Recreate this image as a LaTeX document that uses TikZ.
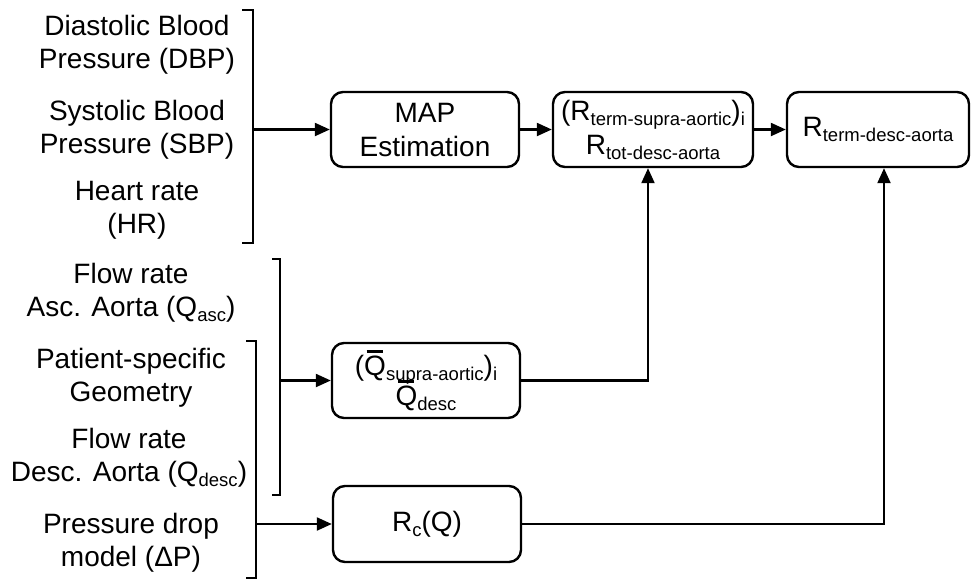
\documentclass[tikz,border=0pt]{standalone}
\usepackage{fontspec}
\setmainfont{Liberation Sans}
\usetikzlibrary{arrows.meta}
\newcommand{\sbx}[1]{\raisebox{-5pt}{\fontsize{18.5}{18.5}\selectfont #1}}
\newcommand{\qbr}{\makebox[0pt][l]{\hspace{2.5pt}\rule[23pt]{16pt}{2.4pt}}Q}
\tikzset{
  box/.style={draw, line width=2.4pt, rounded corners=12pt, minimum width=188pt,
    minimum height=75pt, align=center, inner sep=0pt,
    font=\fontsize{28}{34}\selectfont},
  lbl/.style={align=center, inner sep=0pt, font=\fontsize{28}{33}\selectfont},
  brk/.style={line width=2.2pt},
  arr/.style={line width=2.2pt, -{Triangle[length=15pt,width=13pt]}}
}
\begin{document}
\begin{tikzpicture}[x=1pt,y=-1pt]
\useasboundingbox (0,0) rectangle (971,582);
% input labels
\node[lbl] (dbp) at (137,44.5) {Diastolic Blood\\Pressure (DBP)};
\node[lbl] (sbp) at (137,129.5) {Systolic Blood\\Pressure (SBP)};
\node[lbl] (hr) at (137,210.5) {Heart rate\\(HR)};
\node[lbl] (qasc) at (131,292.5) {Flow rate\\Asc. Aorta (Q\sbx{asc})};
\node[lbl] (geo) at (131,377.5) {Patient-specific\\Geometry};
\node[lbl] (qdesc) at (129,457.5) {Flow rate\\Desc. Aorta (Q\sbx{desc})};
\node[lbl] (dp) at (131,542.5) {Pressure drop\\model (ΔP)};
% boxes
\node[box] (map) at (425,129.5) {MAP\\Estimation};
\node[box, minimum width=200pt] (rr) at (653,129.5) {(R\sbx{term-supra-aortic})\sbx{i}\\R\sbx{tot-desc-aorta}};
\node[box, minimum width=182pt] (rt) at (878,129.5) {R\sbx{term-desc-aorta}};
\node[box, font={\fontsize{28}{30}\selectfont\lineskiplimit=-50pt}] (qb) at (426,380.5) {(\qbr\sbx{supra-aortic})\sbx{i}\\\qbr\sbx{desc}};
\node[box, minimum height=76pt] (rc) at (427,524) {R\sbx{c}(Q)};
% brackets
\draw[brk] (242,10) -- (253,10) -- (253,243) -- (242,243);
\coordinate (ba) at (253,129.5);
\draw[brk] (272,259) -- (280,259) -- (280,495) -- (272,495);
\coordinate (bb) at (280,380.5);
\draw[brk] (246,341) -- (256,341) -- (256,578) -- (246,578);
\coordinate (bc) at (256,524);
% connectors
\draw[arr] (ba) -- (map.west);
\draw[arr] (map.east) -- (rr.west);
\draw[arr] (rr.east) -- (rt.west);
\draw[arr] (bb) -- (qb.west);
\draw[arr] (bc) -- (rc.west);
\draw[arr] (qb.east) -| ([xshift=-5pt]rr.south);
\draw[arr] (rc.east) -| ([xshift=6pt]rt.south);
\end{tikzpicture}
\end{document}
